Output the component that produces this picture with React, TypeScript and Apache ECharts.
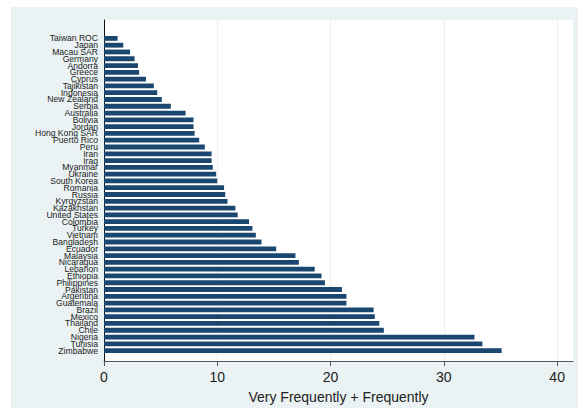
import React, { useEffect, useRef } from "react";
import * as echarts from "echarts";

// Countries, top to bottom
const countries: string[] = [
  "Taiwan ROC", "Japan", "Macau SAR", "Germany", "Andorra", "Greece", "Cyprus",
  "Tajikistan", "Indonesia", "New Zealand", "Serbia", "Australia", "Bolivia",
  "Jordan", "Hong Kong SAR", "Puerto Rico", "Peru", "Iran", "Iraq", "Myanmar",
  "Ukraine", "South Korea", "Romania", "Russia", "Kyrgyzstan", "Kazakhstan",
  "United States", "Colombia", "Turkey", "Vietnam", "Bangladesh", "Ecuador",
  "Malaysia", "Nicaragua", "Lebanon", "Ethiopia", "Philippines", "Pakistan",
  "Argentina", "Guatemala", "Brazil", "Mexico", "Thailand", "Chile", "Nigeria",
  "Tunisia", "Zimbabwe",
];

// Share answering "Very Frequently" or "Frequently" (%)
const shares: number[] = [
  1.2, 1.7, 2.3, 2.7, 3.0, 3.1, 3.7,
  4.4, 4.7, 5.1, 5.9, 7.2, 7.9,
  7.9, 8.0, 8.4, 8.9, 9.5, 9.5, 9.6,
  9.9, 10.0, 10.6, 10.7, 10.9, 11.6,
  11.8, 12.8, 13.1, 13.4, 13.9, 15.2,
  16.9, 17.2, 18.6, 19.2, 19.5, 21.0,
  21.4, 21.4, 23.8, 23.9, 24.3, 24.7, 32.7,
  33.4, 35.1,
];

const xTicks: number[] = [0, 10, 20, 30, 40];
const xTitle = "Very Frequently + Frequently";

const W = 579;
const H = 409;
const FONT = "'Liberation Sans', Arial, Helvetica, sans-serif";
const X_MAX = 41.4;

export default function App() {
  const ref = useRef<HTMLDivElement>(null);

  useEffect(() => {
    if (!ref.current) return;
    const chart = echarts.init(ref.current, undefined, { renderer: "svg" });
    chart.setOption({
      animation: false,
      backgroundColor: "#ffffff",
      graphic: [
        {
          type: "rect",
          z: -10,
          silent: true,
          shape: { x: 11, y: 7, width: 567, height: 401 },
          style: { fill: "#eaf2f3" },
        },
      ],
      grid: [
        // frame: white plot region, x axis, gridlines and left axis line
        {
          left: 104,
          right: 6,
          top: 20,
          bottom: 41,
          show: true,
          backgroundColor: "#ffffff",
          borderWidth: 0,
        },
        // bars
        {
          left: 104,
          right: 6,
          top: 35,
          bottom: 55,
        },
      ],
      xAxis: [
        {
          gridIndex: 0,
          type: "value",
          min: 0,
          max: X_MAX,
          interval: 10,
          axisLine: { show: true, lineStyle: { color: "#555555", width: 1 } },
          axisTick: {
            show: true,
            length: 5,
            customValues: xTicks,
            lineStyle: { color: "#555555" },
          },
          axisLabel: {
            customValues: xTicks,
            margin: 9,
            fontSize: 14,
            fontFamily: FONT,
            color: "#222222",
          },
          splitLine: { show: true, lineStyle: { color: "#e8f0f2", width: 1 } },
          name: xTitle,
          nameLocation: "middle",
          nameGap: 29,
          nameTextStyle: { fontSize: 14, fontFamily: FONT, color: "#222222" },
        },
        {
          gridIndex: 1,
          type: "value",
          min: 0,
          max: X_MAX,
          show: false,
          splitLine: { show: false },
        },
      ],
      yAxis: [
        {
          gridIndex: 0,
          type: "value",
          min: 0,
          max: 1,
          axisLine: { show: true, lineStyle: { color: "#111111", width: 1 } },
          axisTick: { show: false },
          axisLabel: { show: false },
          splitLine: { show: false },
        },
        {
          gridIndex: 1,
          type: "category",
          data: countries,
          inverse: true,
          axisLine: { show: false },
          axisTick: { show: false },
          axisLabel: {
            interval: 0,
            margin: 6,
            fontSize: 8.6,
            lineHeight: 6.6,
            fontFamily: FONT,
            color: "#222222",
          },
        },
      ],
      series: [
        {
          type: "bar",
          xAxisIndex: 1,
          yAxisIndex: 1,
          data: shares,
          barWidth: 4.8,
          itemStyle: { color: "#1a476f" },
        },
      ],
    });
    return () => chart.dispose();
  }, []);

  return (
    <div
      ref={ref}
      style={{ position: "absolute", left: 0, top: 0, width: W, height: H }}
    />
  );
}
